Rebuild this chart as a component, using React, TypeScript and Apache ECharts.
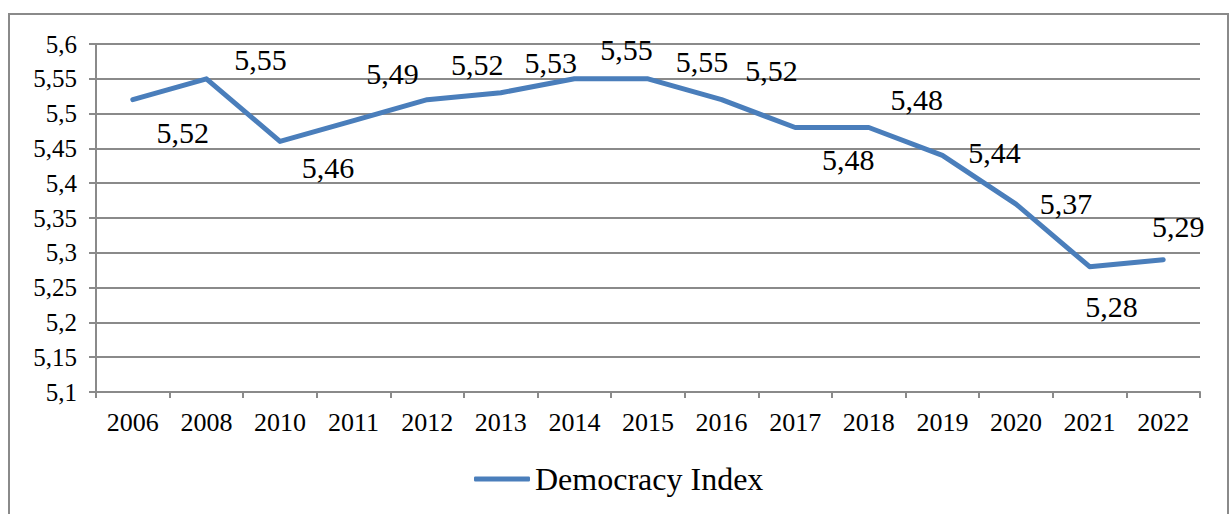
import React, { useEffect, useRef } from "react";
import * as echarts from "echarts";

const years = ["2006", "2008", "2010", "2011", "2012", "2013", "2014", "2015", "2016", "2017", "2018", "2019", "2020", "2021", "2022"];
const democracyIndex = [5.52, 5.55, 5.46, 5.49, 5.52, 5.53, 5.55, 5.55, 5.52, 5.48, 5.48, 5.44, 5.37, 5.28, 5.29];
const seriesName = "Democracy Index";
const yMin = 5.1;
const yMax = 5.6;
const yStep = 0.05;
// label offsets (dx, dy) from each point
const labelOffsets: [number, number][] = [
  [50, 33], [54, -19], [48, 26], [39, -47], [50, -35], [50, -30], [52, -29], [54, -17],
  [50, -29], [53, 32], [48, -28], [52, -3], [50, -1], [22, 40], [15, -33],
];

const FONT = "Liberation Serif";
const GRID = "#8a8a8a";
const LINE = "#4a7ebb";

export default function App() {
  const ref = useRef<HTMLDivElement>(null);
  useEffect(() => {
    if (!ref.current) return;
    const chart = echarts.init(ref.current, undefined, { renderer: "svg" });
    chart.setOption({
      animation: false,
      backgroundColor: "#ffffff",
      textStyle: { fontFamily: FONT },
      graphic: [
        {
          type: "rect",
          shape: { x: 9, y: 14, width: 1219, height: 530 },
          style: { fill: "none", stroke: GRID, lineWidth: 2 },
          silent: true,
        },
      ],
      grid: { left: 96, right: 30, top: 44, bottom: 122, containLabel: false },
      legend: {
        data: [seriesName],
        left: 469,
        top: 458,
        icon: "roundRect",
        itemWidth: 56,
        itemHeight: 5,
        itemGap: 4,
        textStyle: { fontFamily: FONT, fontSize: 32, color: "#000" },
      },
      xAxis: {
        type: "category",
        data: years,
        boundaryGap: true,
        axisLine: { lineStyle: { color: GRID, width: 2 } },
        axisTick: { show: true, length: 6, lineStyle: { color: GRID, width: 2 } },
        axisLabel: { fontFamily: FONT, fontSize: 26, color: "#000", margin: 17, interval: 0 },
        splitLine: { show: false },
      },
      yAxis: {
        type: "value",
        min: yMin,
        max: yMax,
        interval: yStep,
        axisLine: { show: true, lineStyle: { color: GRID, width: 2 } },
        axisTick: { show: true, length: 7, lineStyle: { color: GRID, width: 2 } },
        axisLabel: {
          fontFamily: FONT,
          fontSize: 25,
          color: "#000",
          margin: 19,
          formatter: (v: number) => String(Math.round(v * 100) / 100).replace(".", ","),
        },
        splitLine: { show: true, lineStyle: { color: GRID, width: 2 } },
      },
      series: [
        {
          name: seriesName,
          type: "line",
          data: democracyIndex.map((v, i) => ({
            value: v,
            label: { offset: labelOffsets[i] },
          })),
          symbol: "circle",
          symbolSize: 1,
          showSymbol: true,
          lineStyle: { color: LINE, width: 5, cap: "round", join: "round" },
          itemStyle: { color: LINE },
          label: {
            show: true,
            position: "inside",
            align: "center",
            verticalAlign: "middle",
            fontFamily: FONT,
            fontSize: 30,
            color: "#000",
            formatter: (p: any) => Number(p.value).toFixed(2).replace(".", ","),
          },
        },
      ],
    });
    return () => chart.dispose();
  }, []);
  return (
    <div
      ref={ref}
      style={{ position: "absolute", left: 0, top: 0, width: 1230, height: 514, background: "#fff" }}
    />
  );
}
